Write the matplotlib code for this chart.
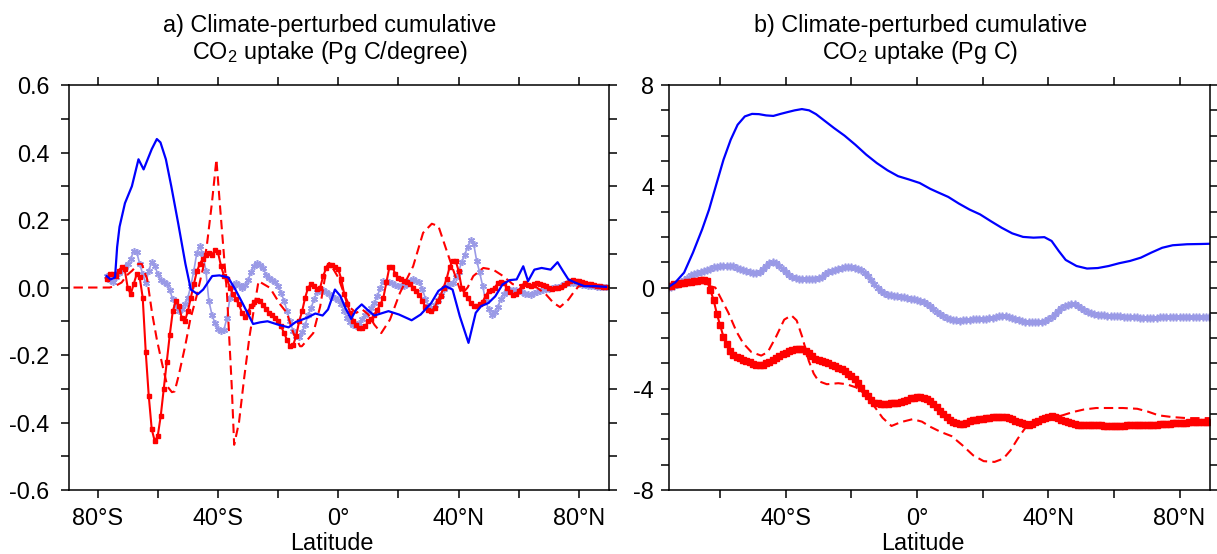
import numpy as np
import matplotlib
matplotlib.use("Agg")
import matplotlib.pyplot as plt
from matplotlib.ticker import MultipleLocator, FixedLocator, FixedFormatter

plt.rcParams["font.family"] = ["Liberation Sans", "DejaVu Sans"]
plt.rcParams["font.size"] = 16.8
plt.rcParams["axes.unicode_minus"] = False
plt.rcParams["mathtext.fontset"] = "custom"
plt.rcParams["mathtext.rm"] = "Liberation Sans"

BLUE = "#0000ff"
RED = "#ff0000"
LAVENDER = "#9a9ae6"

# ---- panel a: Pg C / degree ----
lat_a = np.arange(-77, 90)  # 1 degree grid of the marker series
red_a = [
    0.025, 0.039, 0.04, 0.035, 0.05, 0.06, 0.055, 0.0, -0.02, 0.01,
    0.04, 0.03, -0.03, -0.19, -0.32, -0.42, -0.455, -0.44, -0.38, -0.30,
    -0.22, -0.14, -0.07, -0.04, -0.055, -0.09, -0.10, -0.07, -0.03, 0.01,
    0.048, 0.07, 0.085, 0.095, 0.103, 0.097, 0.11, 0.105, 0.065, 0.035,
    0.024, 0.0, -0.02, -0.035, -0.05, -0.075, -0.088, -0.072, -0.055, -0.043,
    -0.037, -0.04, -0.052, -0.065, -0.075, -0.08, -0.09, -0.10, -0.115, -0.135,
    -0.156, -0.172, -0.17, -0.145, -0.10, -0.07, -0.03, 0.0, 0.01, 0.006,
    -0.004, 0.0, 0.034, 0.058, 0.068, 0.066, 0.06, 0.055, 0.025, -0.02,
    -0.05, -0.075, -0.098, -0.112, -0.12, -0.12, -0.115, -0.10, -0.094, -0.08,
    -0.066, -0.05, -0.03, 0.015, 0.06, 0.06, 0.04, 0.028, 0.025, 0.02,
    0.016, 0.01, 0.0, -0.01, -0.022, -0.04, -0.058, -0.068, -0.07, -0.06,
    -0.04, -0.025, 0.0, 0.025, 0.06, 0.078, 0.08, 0.05, 0.0, -0.018,
    -0.03, -0.045, -0.055, -0.054, -0.05, -0.042, -0.025, -0.01, -0.007, 0.0,
    0.012, 0.016, 0.014, 0.0, -0.012, -0.022, -0.02, -0.01, 0.005, 0.014,
    0.008, 0.004, 0.01, 0.014, 0.01, 0.008, 0.004, 0.0, -0.005, -0.002,
    0.0, 0.003, 0.008, 0.013, 0.018, 0.021, 0.02, 0.019, 0.016, 0.013,
    0.011, 0.009, 0.007, 0.005, 0.004, 0.003, 0.002,
]
lav_a = [
    0.034, 0.022, 0.015, 0.03, 0.044, 0.052, 0.062, 0.07, 0.085, 0.108,
    0.105, 0.07, 0.04, 0.012, 0.05, 0.076, 0.065, 0.04, 0.022, 0.017,
    0.01, -0.008, -0.035, -0.055, -0.07, -0.063, -0.05, -0.03, 0.005, 0.05,
    0.103, 0.122, 0.10, 0.05, -0.04, -0.08, -0.105, -0.122, -0.13, -0.125,
    -0.09, -0.03, 0.006, 0.013, 0.008, 0.0, 0.008, 0.022, 0.045, 0.065,
    0.073, 0.068, 0.058, 0.038, 0.028, 0.022, 0.015, 0.005, -0.015, -0.04,
    -0.07, -0.10, -0.13, -0.145, -0.148, -0.132, -0.11, -0.082, -0.06, -0.034,
    -0.012, -0.008, -0.006, -0.013, -0.02, -0.027, -0.032, -0.036, -0.05, -0.07,
    -0.09, -0.103, -0.11, -0.115, -0.105, -0.093, -0.082, -0.072, -0.06, -0.045,
    -0.026, 0.0, 0.019, 0.017, 0.015, 0.012, 0.008, 0.004, 0.004, 0.004,
    0.01, 0.018, 0.024, 0.02, 0.015, -0.005, -0.034, -0.055, -0.064, -0.052,
    -0.038, -0.022, -0.005, 0.006, 0.01, 0.014, 0.03, 0.047, 0.075, 0.097,
    0.12, 0.14, 0.13, 0.08, 0.045, 0.005, -0.04, -0.065, -0.08, -0.072,
    -0.058, -0.035, -0.018, -0.01, -0.006, -0.006, -0.006, -0.01, -0.014, -0.018,
    -0.02, -0.021, -0.016, -0.012, -0.009, -0.007, -0.005, -0.003, -0.001, 0.001,
    0.003, 0.006, 0.01, 0.014, 0.014, 0.014, 0.012, 0.01, 0.008, 0.007,
    0.006, 0.005, 0.004, 0.003, 0.002, 0.002, 0.001,
]
blue_a_lat = [
    -77, -75.7, -74.2, -73.5, -72.7, -70.9, -68.6, -66.4, -64.7, -62,
    -60.3, -59.1, -57.3, -55.5, -53.2, -50.8, -49, -46.7, -44.9, -41.9,
    -39.5, -36.6, -34.2, -31.9, -28.3, -25.9, -23.5, -20, -16.5, -14.1,
    -10.5, -7.6, -5.2, -3.4, -1.1, 0.7, 2.5, 4.3, 6, 7.8,
    9.6, 12, 16.7, 20.2, 24.4, 27.4, 30.9, 33.3, 35.6, 38,
    40.4, 43.3, 45.7, 47.5, 49.9, 52.2, 54.6, 57, 59.3, 61.5,
    63.1, 65.2, 67.6, 70.6, 72.9, 74.7, 76.5, 78.9, 81.8, 85.4, 89,
]
blue_a = [
    0.034, 0.024, 0.03, 0.12, 0.18, 0.25, 0.30, 0.38, 0.35, 0.41,
    0.44, 0.43, 0.38, 0.30, 0.19, 0.07, -0.006, -0.02, -0.006, 0.034,
    0.036, 0.03, -0.006, -0.045, -0.108, -0.103, -0.10, -0.11, -0.118, -0.102,
    -0.09, -0.077, -0.083, -0.065, -0.006, -0.025, -0.063, -0.093, -0.065, -0.05,
    -0.065, -0.083, -0.07, -0.08, -0.097, -0.08, -0.046, -0.01, 0.004, -0.006,
    -0.085, -0.164, -0.075, -0.055, -0.046, -0.026, 0.009, 0.022, 0.024, 0.063,
    0.019, 0.053, 0.058, 0.053, 0.075, 0.049, 0.024, 0.014, 0.004, 0.004, 0.002,
]
dash_a_lat = [
    -88, -76, -74, -72, -70.3, -68.5, -66.5, -65.3, -63.5, -61.9,
    -60.3, -58.6, -56.8, -55.3, -54.4, -53.1, -50.9, -49.2, -47.1, -44.8,
    -43.7, -42, -40.5, -39.3, -37, -35.4, -34.6, -33, -31.3, -29.5,
    -27.7, -26.5, -22.7, -19.3, -17.1, -14.9, -12.7, -12.1, -8.3, -6,
    -3.8, -3, -2, 0, 2, 4, 6, 8, 10, 12,
    14.3, 17.2, 20.5, 24.9, 28.2, 31.1, 33.3, 35.9, 39.3, 41,
    43, 44.9, 48.2, 51.5, 54.8, 58, 62, 66, 69, 71.5,
    73.7, 76.5, 78.1, 80, 84, 90,
]
dash_a = [
    0.0, 0.0, 0.005, 0.015, 0.036, 0.05, 0.07, 0.07, 0.024, -0.075,
    -0.154, -0.224, -0.293, -0.31, -0.308, -0.263, -0.174, -0.095, -0.026, 0.063,
    0.123, 0.25, 0.38, 0.241, -0.016, -0.293, -0.466, -0.40, -0.27, -0.145,
    -0.046, 0.019, -0.001, -0.05, -0.075, -0.135, -0.174, -0.174, -0.135, -0.056,
    0.063, 0.073, 0.06, 0.03, -0.02, -0.06, -0.075, -0.065, -0.08, -0.11,
    -0.135, -0.095, -0.016, 0.063, 0.162, 0.189, 0.182, 0.113, 0.024, -0.02,
    0.0, 0.034, 0.058, 0.053, 0.034, 0.01, 0.005, 0.0, -0.02, -0.045,
    -0.058, -0.036, -0.016, 0.005, 0.003, 0.0,
]

# ---- panel b: Pg C ----
lat_b = np.arange(-76, 90)
red_b = [
    0.05, 0.08, 0.12, 0.14, 0.16, 0.18, 0.2, 0.22, 0.24, 0.27,
    0.29, 0.29, 0.25, -0.1, -0.5, -1.05, -1.5, -1.95, -2.25, -2.5,
    -2.65, -2.74, -2.8, -2.85, -2.9, -2.96, -3.02, -3.07, -3.08, -3.05,
    -3.0, -2.94, -2.87, -2.8, -2.72, -2.64, -2.58, -2.52, -2.47, -2.43,
    -2.42, -2.43, -2.5, -2.6, -2.7, -2.82, -2.88, -2.92, -2.96, -3.0,
    -3.05, -3.1, -3.16, -3.22, -3.3, -3.4, -3.5, -3.62, -3.78, -3.95,
    -4.15, -4.3, -4.45, -4.55, -4.58, -4.59, -4.59, -4.59, -4.58, -4.58,
    -4.56, -4.53, -4.5, -4.45, -4.38, -4.35, -4.33, -4.33, -4.36, -4.42,
    -4.5, -4.6, -4.72, -4.88, -5.0, -5.12, -5.22, -5.3, -5.35, -5.38,
    -5.38, -5.34, -5.29, -5.25, -5.22, -5.2, -5.18, -5.16, -5.14, -5.12,
    -5.11, -5.1, -5.1, -5.12, -5.15, -5.2, -5.26, -5.32, -5.37, -5.4,
    -5.42, -5.38, -5.32, -5.26, -5.2, -5.14, -5.1, -5.09, -5.12, -5.17,
    -5.22, -5.28, -5.33, -5.37, -5.4, -5.42, -5.43, -5.43, -5.43, -5.43,
    -5.44, -5.44, -5.45, -5.46, -5.47, -5.47, -5.47, -5.47, -5.46, -5.46,
    -5.45, -5.45, -5.45, -5.45, -5.45, -5.45, -5.44, -5.43, -5.43, -5.42,
    -5.41, -5.4, -5.39, -5.38, -5.37, -5.36, -5.35, -5.34, -5.34, -5.33,
    -5.32, -5.32, -5.31, -5.31, -5.31, -5.31,
]
lav_b = [
    0.0, 0.03, 0.08, 0.14, 0.2, 0.28, 0.38, 0.48, 0.54, 0.58,
    0.62, 0.66, 0.7, 0.75, 0.8, 0.83, 0.85, 0.86, 0.87, 0.87,
    0.84, 0.78, 0.73, 0.69, 0.65, 0.6, 0.57, 0.58, 0.63, 0.74,
    0.86, 0.95, 1.0, 0.97, 0.86, 0.72, 0.6, 0.48, 0.4, 0.36,
    0.34, 0.34, 0.34, 0.35, 0.35, 0.35, 0.37, 0.42, 0.52, 0.6,
    0.66, 0.71, 0.75, 0.78, 0.8, 0.8, 0.8, 0.78, 0.75, 0.7,
    0.58, 0.45, 0.3, 0.15, 0.0, -0.13, -0.22, -0.28, -0.31, -0.32,
    -0.34, -0.36, -0.38, -0.41, -0.44, -0.47, -0.5, -0.53, -0.58, -0.64,
    -0.72, -0.84, -0.96, -1.06, -1.13, -1.19, -1.24, -1.28, -1.3, -1.31,
    -1.3, -1.28, -1.27, -1.26, -1.26, -1.25, -1.25, -1.24, -1.22, -1.19,
    -1.16, -1.14, -1.12, -1.12, -1.15, -1.19, -1.23, -1.28, -1.33, -1.36,
    -1.38, -1.38, -1.38, -1.37, -1.35, -1.31, -1.26, -1.18, -1.06, -0.93,
    -0.82, -0.74, -0.69, -0.67, -0.67, -0.72, -0.8, -0.88, -0.96, -1.01,
    -1.04, -1.07, -1.09, -1.1, -1.11, -1.12, -1.13, -1.13, -1.14, -1.15,
    -1.16, -1.17, -1.18, -1.18, -1.19, -1.19, -1.19, -1.19, -1.19, -1.19,
    -1.18, -1.18, -1.18, -1.18, -1.18, -1.18, -1.17, -1.17, -1.17, -1.17,
    -1.17, -1.17, -1.17, -1.17, -1.17, -1.17,
]
blue_b_lat = [
    -76, -73.7, -71, -68.3, -65.5, -63.4, -61.2, -59, -56.8, -54.7,
    -52.5, -50.3, -48.2, -46, -43.8, -41.6, -39.5, -37.3, -35.1, -32.9,
    -30.8, -28.6, -25.3, -22.1, -18.8, -15.5, -12.3, -9, -5.8, -2.5,
    0.8, 4, 6.2, 9.5, 12.7, 16, 19.2, 22.5, 25.8, 29,
    32.3, 35.5, 38.8, 41, 43.2, 45.3, 48.6, 51.8, 55.1, 58.4,
    61.6, 64.9, 68.2, 71.4, 74.7, 77.9, 82.3, 86.6, 89.5,
]
blue_b = [
    0.0, 0.2, 0.59, 1.38, 2.3, 3.08, 4.07, 5.05, 5.84, 6.43,
    6.76, 6.86, 6.85, 6.8, 6.78, 6.86, 6.93, 7.0, 7.05, 7.0,
    6.85, 6.63, 6.3, 6.0, 5.64, 5.25, 4.92, 4.63, 4.4, 4.27,
    4.13, 3.9, 3.77, 3.58, 3.32, 3.08, 2.89, 2.62, 2.36, 2.14,
    2.0, 1.97, 1.99, 1.84, 1.44, 1.09, 0.85, 0.75, 0.77, 0.85,
    0.96, 1.05, 1.18, 1.38, 1.57, 1.67, 1.71, 1.72, 1.73,
]
dash_b_lat = [
    -76, -72, -68.8, -65.5, -64, -63, -61.5, -59.5, -57.5, -55,
    -53, -50.5, -47.5, -45.5, -43, -40.5, -38.3, -36.7, -35, -33,
    -31.5, -30, -27.5, -24, -21.5, -18.5, -15.5, -13, -10.5, -7.8,
    -5, -1.3, 1.5, 4, 7.3, 10.5, 13.8, 17.1, 20.3, 23.6,
    26.3, 28.5, 30.7, 32.8, 35, 37.7, 41, 44.3, 47.5, 50.8,
    54.6, 58.4, 62.7, 67.1, 70.3, 73.6, 77.9, 82.3, 89.5,
]
dash_b = [
    0.0, 0.09, 0.2, 0.3, 0.24, 0.05, 0.0, -0.5, -1.0, -1.75,
    -2.2, -2.55, -2.69, -2.55, -1.95, -1.27, -1.1, -1.3, -1.95, -2.9,
    -3.4, -3.7, -3.82, -3.78, -3.82, -3.95, -4.25, -4.7, -5.15, -5.47,
    -5.32, -5.2, -5.3, -5.5, -5.71, -5.87, -6.23, -6.63, -6.86, -6.89,
    -6.76, -6.43, -5.97, -5.58, -5.38, -5.25, -5.18, -5.05, -4.92, -4.82,
    -4.76, -4.76, -4.76, -4.79, -4.9, -5.05, -5.12, -5.16, -5.16,
]

# ---- axis annotation ----
xt_a = [-80, -40, 0, 40, 80]
xl_a = ["80°S", "40°S", "0°", "40°N", "80°N"]
xt_b = [-40, 0, 40, 80]
xl_b = ["40°S", "0°", "40°N", "80°N"]
yt_a = [-0.6, -0.4, -0.2, 0.0, 0.2, 0.4, 0.6]
yl_a = ["-0.6", "-0.4", "-0.2", "0.0", "0.2", "0.4", "0.6"]
yt_b = [-8, -4, 0, 4, 8]
yl_b = ["-8", "-4", "0", "4", "8"]
title_a = ["a) Climate-perturbed cumulative", r"CO$_\mathregular{2}$ uptake (Pg C/degree)"]
title_b = ["b) Climate-perturbed cumulative", r"CO$_\mathregular{2}$ uptake (Pg C)"]


def style_axes(ax, xlim, ylim, xt, xl, yt, yl, yminor, title, title_x, ypad):
    ax.set_xlim(*xlim)
    ax.set_ylim(*ylim)
    ax.xaxis.set_major_locator(FixedLocator(xt))
    ax.xaxis.set_major_formatter(FixedFormatter(xl))
    ax.xaxis.set_minor_locator(MultipleLocator(20))
    ax.yaxis.set_major_locator(FixedLocator(yt))
    ax.yaxis.set_major_formatter(FixedFormatter(yl))
    ax.yaxis.set_minor_locator(MultipleLocator(yminor))
    ax.tick_params(which="both", direction="out", length=6, width=1.1,
                   top=True, right=True, labeltop=False, labelright=False)
    ax.tick_params(axis="x", which="both", pad=6)
    ax.tick_params(axis="y", which="both", pad=ypad)
    for s in ax.spines.values():
        s.set_linewidth(1.1)
    ax.set_xlabel("Latitude")
    ax.xaxis.set_label_coords(title_x + 0.004, -0.103)
    # two title lines, placed by baseline
    ax.text(title_x, 1.1316, title[0], transform=ax.transAxes,
            ha="center", va="baseline")
    ax.text(title_x, 1.0642, title[1], transform=ax.transAxes,
            ha="center", va="baseline")


fig = plt.figure(figsize=(12.17, 5.54), dpi=100)
ax_a = fig.add_axes([0.0567, 0.1155, 0.4437, 0.7310])
ax_b = fig.add_axes([0.5500, 0.1155, 0.4443, 0.7310])

# panel a
ax_a.plot(lat_a, lav_a, color=LAVENDER, lw=1.2, marker=(6, 2, 0), ms=5, mew=1.1)
ax_a.plot(lat_a, red_a, color=RED, lw=1.5, marker="s", ms=3.4, mec=RED)
ax_a.plot(dash_a_lat, dash_a, color=RED, lw=1.5, ls=(0, (4.5, 2.5)))
ax_a.plot(blue_a_lat, blue_a, color=BLUE, lw=1.6)
style_axes(ax_a, (-89.5, 90), (-0.6, 0.6), xt_a, xl_a, yt_a, yl_a, 0.1,
           title_a, 0.483, 8)

# panel b
ax_b.plot(lat_b, lav_b, color=LAVENDER, lw=1.2, marker=(6, 2, 0), ms=5.5, mew=1.2)
ax_b.plot(lat_b, red_b, color=RED, lw=1.5, marker="s", ms=5.0, mec=RED)
ax_b.plot(dash_b_lat, dash_b, color=RED, lw=1.5, ls=(0, (4.5, 2.5)))
ax_b.plot(blue_b_lat, blue_b, color=BLUE, lw=1.6)
style_axes(ax_b, (-75.5, 89.3), (-8, 8), xt_b, xl_b, yt_b, yl_b, 1,
           title_b, 0.464, 5)

fig.savefig("out.png", dpi=100)
